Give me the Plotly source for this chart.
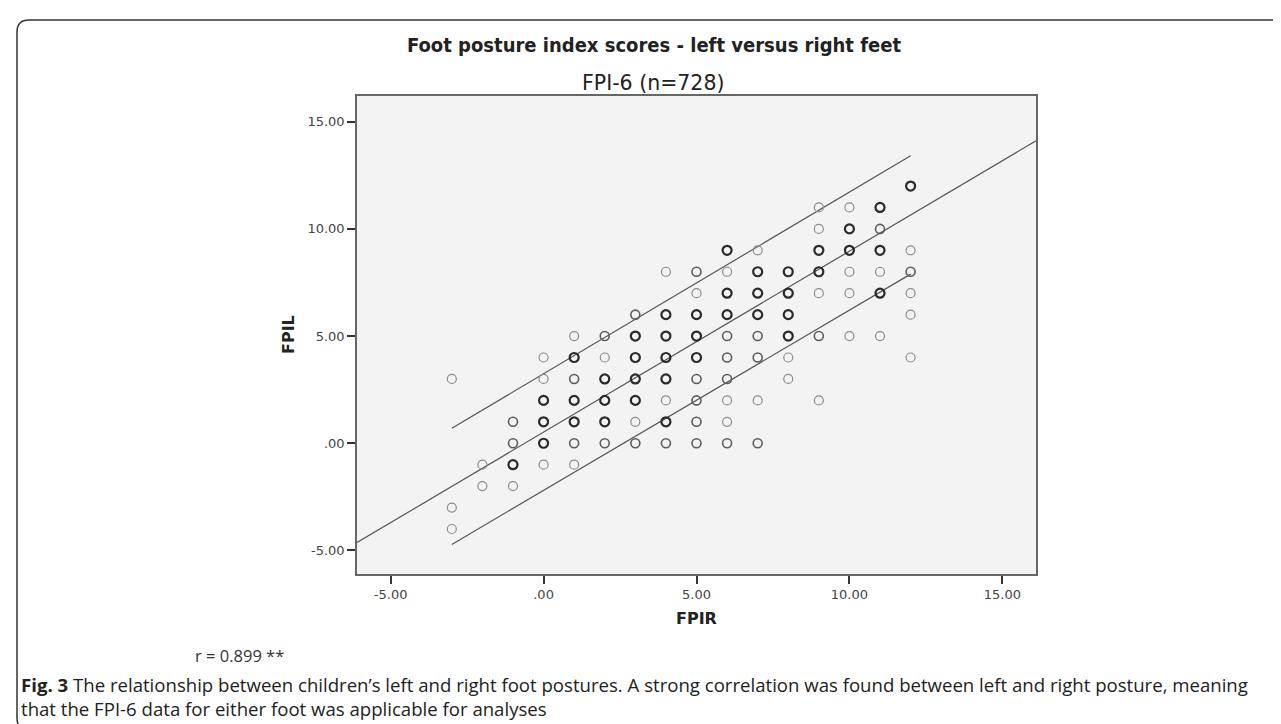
import plotly.graph_objects as go

# ---- data ----
# FPIR (x), FPIL (y) and how heavily each circle is overprinted (1 light, 2 medium, 3 dark)
fpir = [-3, -3, -3,
        -2, -2,
        -1, -1, -1, -1,
        0, 0, 0, 0, 0, 0,
        1, 1, 1, 1, 1, 1, 1,
        2, 2, 2, 2, 2, 2,
        3, 3, 3, 3, 3, 3, 3,
        4, 4, 4, 4, 4, 4, 4, 4,
        5, 5, 5, 5, 5, 5, 5, 5, 5,
        6, 6, 6, 6, 6, 6, 6, 6, 6, 6,
        7, 7, 7, 7, 7, 7, 7, 7,
        8, 8, 8, 8, 8, 8,
        9, 9, 9, 9, 9, 9, 9,
        10, 10, 10, 10, 10, 10,
        11, 11, 11, 11, 11, 11,
        12, 12, 12, 12, 12, 12]
fpil = [3, -3, -4,
        -1, -2,
        1, 0, -1, -2,
        4, 3, 2, 1, 0, -1,
        5, 4, 3, 2, 1, 0, -1,
        5, 4, 3, 2, 1, 0,
        6, 5, 4, 3, 2, 1, 0,
        8, 6, 5, 4, 3, 2, 1, 0,
        8, 7, 6, 5, 4, 3, 2, 1, 0,
        9, 8, 7, 6, 5, 4, 3, 2, 1, 0,
        9, 8, 7, 6, 5, 4, 2, 0,
        8, 7, 6, 5, 4, 3,
        11, 10, 9, 8, 7, 5, 2,
        11, 10, 9, 8, 7, 5,
        11, 10, 9, 8, 7, 5,
        12, 9, 8, 7, 6, 4]
overlap = [1, 1, 1,
           1, 1,
           2, 2, 3, 1,
           1, 1, 3, 3, 3, 1,
           1, 3, 2, 3, 3, 2, 1,
           2, 1, 3, 3, 3, 2,
           2, 3, 3, 3, 3, 1, 2,
           1, 3, 3, 3, 3, 1, 3, 2,
           2, 1, 3, 3, 3, 2, 2, 2, 2,
           3, 1, 3, 3, 2, 2, 2, 1, 1, 2,
           1, 3, 3, 3, 2, 2, 1, 2,
           3, 3, 3, 3, 1, 1,
           1, 1, 3, 3, 1, 2, 1,
           1, 3, 3, 1, 1, 1,
           3, 2, 3, 1, 3, 1,
           3, 1, 2, 1, 1, 1]

# fit line and 95% individual prediction interval, endpoints
fit_x = [-6.1, 16.1]
fit_y = [-4.63, 14.11]
band_x = [-3, 12]
upper_y = [0.70, 13.41]
lower_y = [-4.72, 7.89]

x_ticks = [-5, 0, 5, 10, 15]
x_ticklabels = ["-5.00", ".00", "5.00", "10.00", "15.00"]
y_ticks = [-5, 0, 5, 10, 15]
y_ticklabels = ["-5.00", ".00", "5.00", "10.00", "15.00"]

title = "Foot posture index scores - left versus right feet"
subtitle = "FPI-6 (n=728)"
x_title = "FPIR"
y_title = "FPIL"
r_text = "r = 0.899 **"
caption = ("<b>Fig. 3</b> The relationship between children’s left and right foot postures. "
           "A strong correlation was found between left and right posture, meaning<br>"
           "that the FPI-6 data for either foot was applicable for analyses")

# ---- layout geometry (pixels) ----
W, H = 1281, 724
L, R, T, B = 349, 1028, 88, 566
pw, ph = R - L, B - T


def px(x):
    return (x - L) / pw


def py(y):
    return (B - y) / ph


styles = {1: ("#8c8c8c", 1.2), 2: ("#5c5c5c", 1.6), 3: ("#2a2a2a", 2.2)}

fig = go.Figure()

for xs, ys in [(fit_x, fit_y), (band_x, upper_y), (band_x, lower_y)]:
    fig.add_trace(go.Scatter(x=xs, y=ys, mode="lines",
                             line=dict(color="#555555", width=1.2),
                             hoverinfo="skip", showlegend=False))

for lvl in (1, 2, 3):
    xs = [a for a, o in zip(fpir, overlap) if o == lvl]
    ys = [b for b, o in zip(fpil, overlap) if o == lvl]
    col, w = styles[lvl]
    fig.add_trace(go.Scatter(x=xs, y=ys, mode="markers",
                             marker=dict(symbol="circle-open", size=9, color=col,
                                         line=dict(width=w, color=col)),
                             showlegend=False))

axis_common = dict(showgrid=False, zeroline=False, showline=True, mirror=True,
                   linecolor="#666666", linewidth=1.5, ticks="outside", ticklen=8,
                   tickwidth=1.5, tickcolor="#333333",
                   tickfont=dict(family="DejaVu Sans", size=13, color="#444444"))

fig.update_layout(
    width=W, height=H,
    margin=dict(l=L, r=W - R, t=T, b=H - B),
    paper_bgcolor="white", plot_bgcolor="#f3f3f3",
    xaxis=dict(range=[-6.1, 16.1], tickvals=x_ticks, ticktext=x_ticklabels, **axis_common),
    yaxis=dict(range=[-6.1, 16.2], tickvals=y_ticks, ticktext=y_ticklabels, **axis_common),
)

ann = [
    dict(text="<b>" + title + "</b>", x=px(646), y=py(37),
         font=dict(family="DejaVu Sans Condensed, DejaVu Sans", size=20, color="#222222")),
    dict(text=subtitle, x=px(645), y=py(75), font=dict(family="DejaVu Sans", size=20.5, color="#222222")),
    dict(text="<b>" + x_title + "</b>", x=px(688), y=py(610), font=dict(family="DejaVu Sans", size=16, color="#222222")),
    dict(text="<b>" + y_title + "</b>", x=px(280), y=py(327), textangle=-90, font=dict(family="DejaVu Sans", size=16, color="#222222")),
    dict(text=r_text, x=px(231), y=py(647), font=dict(family="Open Sans", size=16.5, color="#333333")),
]
for a in ann:
    a.update(xref="paper", yref="paper", showarrow=False, xanchor="center", yanchor="middle")
    fig.add_annotation(**a)

fig.add_annotation(text=caption, xref="paper", yref="paper", x=px(11), y=py(688),
                   xanchor="left", yanchor="middle", align="left", showarrow=False,
                   font=dict(family="Open Sans", size=18.6, color="#222222"))

# rounded frame around the figure (right side runs off the page)
fx0, fy0, fy1, rad = 9, 12, 722, 12
path = (f"M {px(1300)},{py(fy0)} L {px(fx0 + rad)},{py(fy0)} "
        f"Q {px(fx0)},{py(fy0)} {px(fx0)},{py(fy0 + rad)} "
        f"L {px(fx0)},{py(fy1 - rad)} Q {px(fx0)},{py(fy1)} {px(fx0 + rad)},{py(fy1)} "
        f"L {px(1300)},{py(fy1)}")
fig.add_shape(type="path", path=path, xref="paper", yref="paper",
              line=dict(color="#333333", width=1.5))

fig.write_html("out.html")
